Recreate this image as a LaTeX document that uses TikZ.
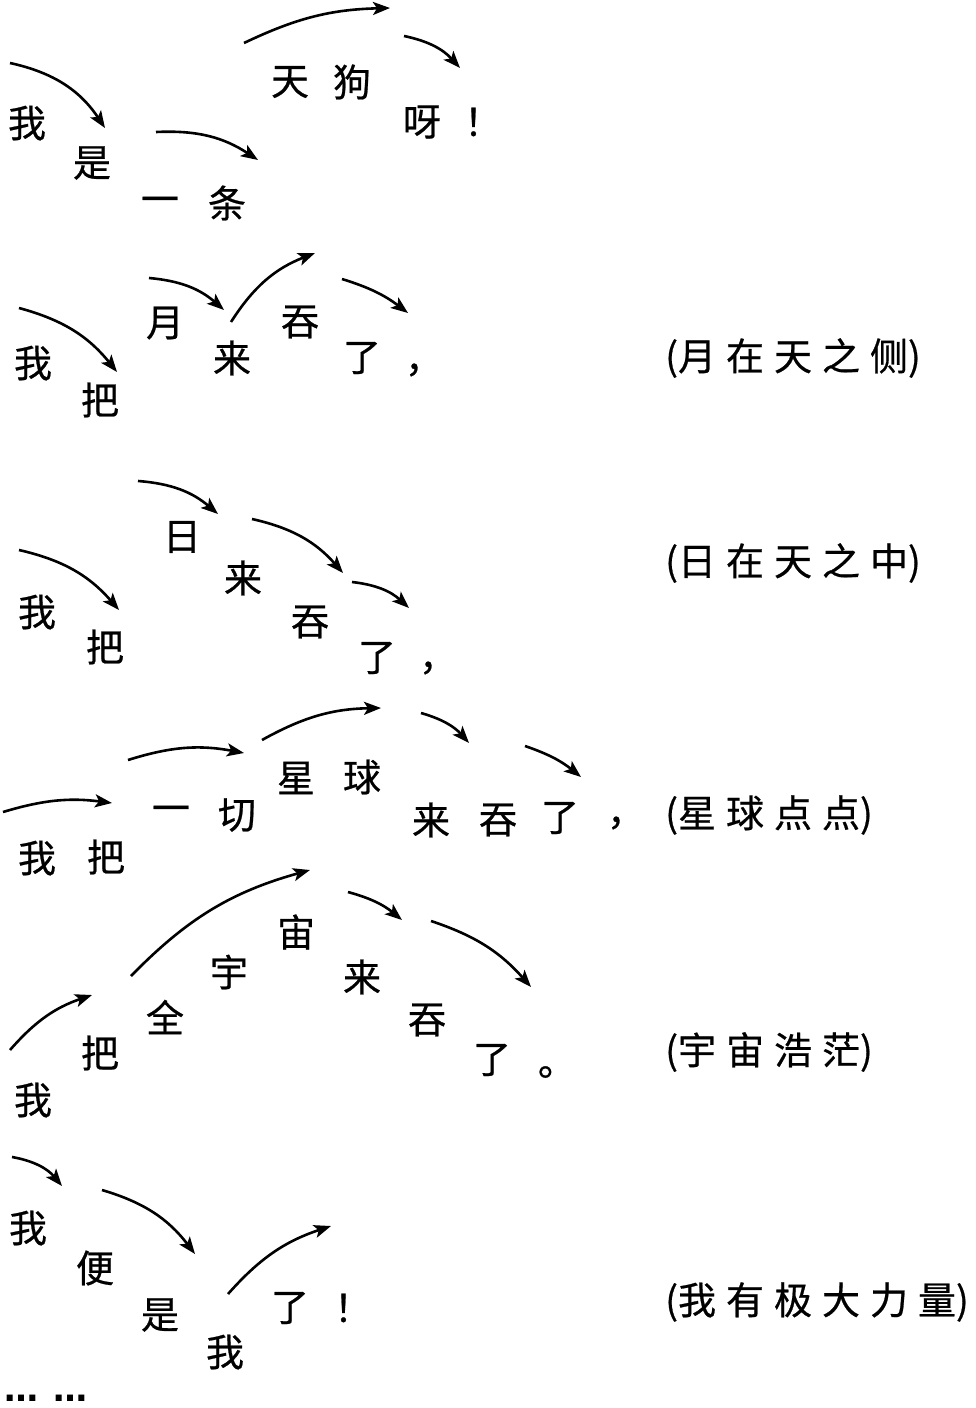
\documentclass[tikz,border=0pt]{standalone}
\usepackage{fontspec}
\setmainfont{Noto Sans CJK SC}[FakeBold=0.6]
\newfontfamily\dvs{DejaVu Sans}
\usetikzlibrary{arrows.meta}
\newcommand{\gp}{\hspace{10pt}}
\begin{document}
\begin{tikzpicture}[x=1pt,y=1pt,
  ch/.style={inner sep=0pt, font=\fontsize{38}{42}\selectfont},
  note/.style={anchor=west, inner sep=0pt, font=\fontsize{38}{42}\selectfont},
  arr/.style={-{Stealth[length=17pt,width=13pt,inset=4pt]}, line width=2.6pt, bend left=#1},
  arr/.default=18]
\useasboundingbox (0,0) rectangle (976,-1408);

% ---------- row 1 ----------
\node[ch] (a1) at (27,-123) {我};
\node[ch] (a2) at (92,-163) {是};
\node[ch] (a3) at (160,-205) {一};
\node[ch] (a4) at (227,-203) {条};
\node[ch] (a5) at (290,-82) {天};
\node[ch] (a6) at (352,-82) {狗};
\node[ch] (a7) at (422,-122) {呀};
\node[ch] (a8) at (483,-122) {！};
\coordinate (pa1) at (10,-63);   \coordinate (qa1) at (105,-128);
\coordinate (pa2) at (156,-132); \coordinate (qa2) at (258,-160);
\coordinate (pa3) at (244,-43);  \coordinate (qa3) at (390,-8);
\coordinate (pa4) at (404,-36);  \coordinate (qa4) at (460,-68);
\draw[arr=22] (pa1) to (qa1);
\draw[arr=18] (pa2) to (qa2);
\draw[arr=12] (pa3) to (qa3);
\draw[arr=18] (pa4) to (qa4);

% ---------- row 2 ----------
\node[ch] (b1) at (33,-363) {我};
\node[ch] (b2) at (100,-400) {把};
\node[ch] (b3) at (165,-323) {月};
\node[ch] (b4) at (232,-358) {来};
\node[ch] (b5) at (300,-322) {吞};
\node[ch] (b6) at (362,-358) {了};
\node[ch] (b7) at (424,-370) {，};
\node[note] (bn) at (665,-358) {(月\gp 在\gp 天\gp 之\gp 侧)};
\coordinate (pb1) at (19,-308);  \coordinate (qb1) at (117,-372);
\coordinate (pb2) at (149,-278); \coordinate (qb2) at (224,-310);
\coordinate (pb3) at (231,-322); \coordinate (qb3) at (315,-253);
\coordinate (pb4) at (342,-279); \coordinate (qb4) at (408,-313);
\draw[arr=18] (pb1) to (qb1);
\draw[arr=18] (pb2) to (qb2);
\draw[arr=18] (pb3) to (qb3);
\draw[arr=10] (pb4) to (qb4);

% ---------- row 3 ----------
\node[ch] (c1) at (37,-612) {我};
\node[ch] (c2) at (105,-647) {把};
\node[ch] (c3) at (182,-537) {日};
\node[ch] (c4) at (243,-578) {来};
\node[ch] (c5) at (310,-622) {吞};
\node[ch] (c6) at (377,-658) {了};
\node[ch] (c7) at (438,-668) {，};
\node[note] (cn) at (665,-563) {(日\gp 在\gp 天\gp 之\gp 中)};
\coordinate (pc1) at (19,-550);  \coordinate (qc1) at (119,-610);
\coordinate (pc2) at (138,-481); \coordinate (qc2) at (218,-514);
\coordinate (pc3) at (252,-519); \coordinate (qc3) at (343,-573);
\coordinate (pc4) at (352,-582); \coordinate (qc4) at (409,-608);
\draw[arr=18] (pc1) to (qc1);
\draw[arr=18] (pc2) to (qc2);
\draw[arr=18] (pc3) to (qc3);
\draw[arr=18] (pc4) to (qc4);

% ---------- row 4 ----------
\node[ch] (d1) at (37,-858) {我};
\node[ch] (d2) at (106,-857) {把};
\node[ch] (d3) at (171,-814) {一};
\node[ch] (d4) at (237,-815) {切};
\node[ch] (d5) at (296,-778) {星};
\node[ch] (d6) at (362,-777) {球};
\node[ch] (d7) at (431,-820) {来};
\node[ch] (d8) at (498,-820) {吞};
\node[ch] (d9) at (560,-818) {了};
\node[ch] (d10) at (626,-823) {，};
\node[note] (dn) at (665,-815) {(星\gp 球\gp 点\gp 点)};
\coordinate (pd1) at (3,-812);   \coordinate (qd1) at (112,-803);
\coordinate (pd2) at (128,-760); \coordinate (qd2) at (244,-753);
\coordinate (pd3) at (262,-740); \coordinate (qd3) at (381,-708);
\coordinate (pd4) at (421,-713); \coordinate (qd4) at (469,-743);
\coordinate (pd5) at (525,-746); \coordinate (qd5) at (581,-777);
\draw[arr=12] (pd1) to (qd1);
\draw[arr=14] (pd2) to (qd2);
\draw[arr=14] (pd3) to (qd3);
\draw[arr=16] (pd4) to (qd4);
\draw[arr=10] (pd5) to (qd5);

% ---------- row 5 ----------
\node[ch] (e1) at (33,-1100) {我};
\node[ch] (e2) at (100,-1053) {把};
\node[ch] (e3) at (165,-1017) {全};
\node[ch] (e4) at (229,-972) {宇};
\node[ch] (e5) at (296,-932) {宙};
\node[ch] (e6) at (362,-977) {来};
\node[ch] (e7) at (427,-1020) {吞};
\node[ch] (e8) at (492,-1060) {了};
\node[ch] (e9) at (557,-1072) {。};
\node[note] (en) at (665,-1052) {(宇\gp 宙\gp 浩\gp 茫)};
\coordinate (pe1) at (10,-1050);  \coordinate (qe1) at (92,-995);
\coordinate (pe2) at (131,-976);  \coordinate (qe2) at (310,-870);
\coordinate (pe3) at (348,-892);  \coordinate (qe3) at (402,-920);
\coordinate (pe4) at (431,-921);  \coordinate (qe4) at (531,-987);
\draw[arr=15] (pe1) to (qe1);
\draw[arr=15] (pe2) to (qe2);
\draw[arr=12] (pe3) to (qe3);
\draw[arr=15] (pe4) to (qe4);

% ---------- row 6 ----------
\node[ch] (f1) at (28,-1228) {我};
\node[ch] (f2) at (95,-1268) {便};
\node[ch] (f3) at (160,-1315) {是};
\node[ch] (f4) at (225,-1352) {我};
\node[ch] (f5) at (290,-1308) {了};
\node[ch] (f6) at (353,-1308) {！};
\node[note] (fn) at (665,-1302) {(我\gp 有\gp 极\gp 大\gp 力\gp 量)};
\node[inner sep=0pt, anchor=base west, font=\dvs\bfseries\fontsize{34}{38}\selectfont] (dots) at (4,-1401) {…\hspace{15pt}…};
\coordinate (pf1) at (12,-1157);  \coordinate (qf1) at (62,-1186);
\coordinate (pf2) at (102,-1190); \coordinate (qf2) at (195,-1254);
\coordinate (pf3) at (228,-1294); \coordinate (qf3) at (331,-1226);
\draw[arr=20] (pf1) to (qf1);
\draw[arr=18] (pf2) to (qf2);
\draw[arr=15] (pf3) to (qf3);
\end{tikzpicture}
\end{document}
